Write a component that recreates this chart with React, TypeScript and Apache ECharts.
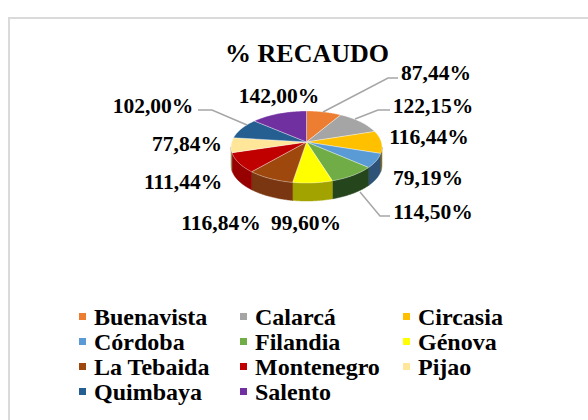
import React, { useEffect, useRef } from "react";
import * as echarts from "echarts";

const titleText = "% RECAUDO";
const categories = ["Buenavista", "Calarcá", "Circasia", "Córdoba", "Filandia", "Génova", "La Tebaida", "Montenegro", "Pijao", "Quimbaya", "Salento"];
const values = [87.44, 122.15, 116.44, 79.19, 114.5, 99.6, 116.84, 111.44, 77.84, 102.0, 142.0];
const topColors = ["#ED7D31", "#A5A5A5", "#FFC000", "#5B9BD5", "#70AD47", "#FFFF00", "#9E480E", "#C00000", "#FFE699", "#255E91", "#7030A0"];
const wallColors = ["#8E4B1D", "#636363", "#997300", "#2F5278", "#25451C", "#A3A300", "#7A3610", "#960000", "#99895C", "#163855", "#43205F"];

const labelCenters: number[][] = [[436, 73], [433, 106], [429, 137], [428, 178], [433, 212], [306, 223], [221, 223], [183, 182], [187, 144], [153, 106], [279, 96]];
const leaderLines: Record<number, number[][]> = {
  0: [[323, 112], [388, 78], [398, 78]],
  1: [[355, 119], [378, 110], [390, 110]],
  4: [[360, 192], [380, 216], [390, 216]],
  9: [[198, 110], [212, 110], [247, 125]],
};

const CX = 306.5, CY = 147, APEX_Y = 142, RX = 75.5, RY = 36, DEPTH = 18;
const total = values.reduce((a, b) => a + b, 0);
const FONT = "'Liberation Serif', 'Times New Roman', serif";

function renderSlice(index: number) {
  return (_params: any, api: any) => {
    const before = values.slice(0, index).reduce((a, b) => a + b, 0);
    const start = (before / total) * Math.PI * 2;
    const end = start + (api.value(0) / total) * Math.PI * 2;
    const pt = (t: number, dy = 0) => [CX + RX * Math.sin(t), CY - RY * Math.cos(t) + dy];
    const arc: number[][] = [];
    const N = 40;
    for (let i = 0; i <= N; i++) arc.push(pt(start + ((end - start) * i) / N));
    const children: any[] = [];
    // side wall: only the part of the arc facing the viewer
    const a = Math.max(start, Math.PI / 2);
    const b = Math.min(end, (Math.PI * 3) / 2);
    if (b > a) {
      const upper: number[][] = [];
      const lower: number[][] = [];
      for (let i = 0; i <= N; i++) {
        const t = a + ((b - a) * i) / N;
        upper.push(pt(t));
        lower.unshift(pt(t, DEPTH));
      }
      children.push({
        type: "polygon",
        shape: { points: [...upper, ...lower] },
        style: { fill: wallColors[index], stroke: wallColors[index], lineWidth: 0.5 },
      });
    }
    children.push({
      type: "polygon",
      shape: { points: [[CX, APEX_Y], ...arc] },
      style: { fill: topColors[index], stroke: "rgba(255,255,255,0.35)", lineWidth: 1 },
    });
    const line = leaderLines[index];
    if (line) {
      children.push({
        type: "polyline",
        shape: { points: line },
        style: { fill: "none", stroke: "#A6A6A6", lineWidth: 1.5 },
      });
    }
    const [lx, ly] = labelCenters[index];
    children.push({
      type: "text",
      x: lx,
      y: ly,
      style: {
        text: api.value(0).toFixed(2).replace(".", ",") + "%",
        font: `bold 21.5px ${FONT}`,
        fill: "#000",
        align: "center",
        verticalAlign: "middle",
      },
    });
    return { type: "group", children };
  };
}

const legendColumns = [
  { names: [0, 3, 6, 9], left: 79 },
  { names: [1, 4, 7, 10], left: 240 },
  { names: [2, 5, 8], left: 403 },
];

export default function App() {
  const ref = useRef<HTMLDivElement>(null);
  useEffect(() => {
    const chart = echarts.init(ref.current!, null, { renderer: "svg" });
    chart.setOption({
      animation: false,
      backgroundColor: "#fff",
      title: {
        text: titleText,
        left: 302,
        top: 35,
        textAlign: "center",
        textStyle: { fontFamily: FONT, fontWeight: "bold", fontSize: 26, color: "#000" },
      },
      legend: legendColumns.map((c) => ({
        orient: "vertical",
        left: c.left,
        top: 304,
        padding: 0,
        itemGap: 0,
        itemWidth: 7,
        itemHeight: 7,
        icon: "rect",
        selectedMode: false,
        data: c.names.map((i) => categories[i]),
        textStyle: { fontFamily: FONT, fontWeight: "bold", fontSize: 24, color: "#000", lineHeight: 25, padding: [0, 0, 0, 3] },
      })),
      graphic: [
        { type: "line", shape: { x1: 8, y1: 18, x2: 588, y2: 18 }, style: { stroke: "#DADADA", lineWidth: 2 }, silent: true },
        { type: "line", shape: { x1: 9, y1: 17, x2: 9, y2: 420 }, style: { stroke: "#DADADA", lineWidth: 2 }, silent: true },
      ],
      series: categories.map((name, i) => ({
        type: "custom",
        name,
        coordinateSystem: "none",
        itemStyle: { color: topColors[i] },
        silent: true,
        data: [[values[i]]],
        renderItem: renderSlice(i),
      })),
    });
    return () => chart.dispose();
  }, []);
  return <div ref={ref} style={{ position: "absolute", left: 0, top: 0, width: 588, height: 420 }} />;
}
